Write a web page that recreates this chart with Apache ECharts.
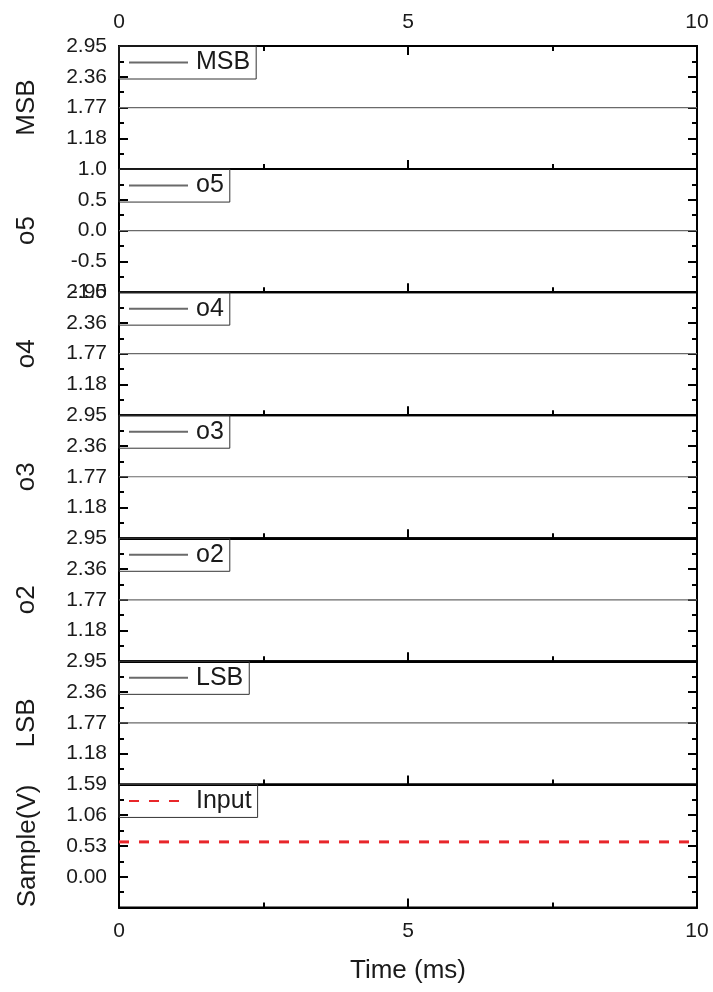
<!DOCTYPE html>
<html>
<head>
<meta charset="utf-8">
<script src="https://cdn.jsdelivr.net/npm/echarts@6/dist/echarts.min.js"></script>
<style>
html,body{margin:0;padding:0;background:#fff;}
#chart{width:713px;height:992px;}
</style>
</head>
<body>
<div id="chart"></div>
<script>
// ---- data ----
const timeMs = [0, 10];
const msbValues = [1.77, 1.77];
const o5Values = [0.0, 0.0];
const o4Values = [1.77, 1.77];
const o3Values = [1.77, 1.77];
const o2Values = [1.77, 1.77];
const lsbValues = [1.77, 1.77];
const inputValues = [0.6, 0.6];

const panelNames = ['MSB', 'o5', 'o4', 'o3', 'o2', 'LSB', 'Sample(V)'];
const seriesNames = ['MSB', 'o5', 'o4', 'o3', 'o2', 'LSB', 'Input'];
const seriesValues = [msbValues, o5Values, o4Values, o3Values, o2Values, lsbValues, inputValues];
const yMins = [0.59, -1.0, 0.59, 0.59, 0.59, 0.59, -0.53];
const yMaxs = [2.95, 1.0, 2.95, 2.95, 2.95, 2.95, 1.59];
const yIntervals = [0.59, 0.5, 0.59, 0.59, 0.59, 0.59, 0.53];
const yDecimals = [2, 1, 2, 2, 2, 2, 2];
const xTicks = [0, 5, 10];
const xTitle = 'Time (ms)';

// ---- layout ----
const FONT = '"Liberation Sans", Arial, sans-serif';
const TXT = '#1a1a1a';
const plotLeft = 119, plotRight = 16, plotTop = 46, plotBottom = 907.5;
const n = panelNames.length;
const ph = (plotBottom - plotTop) / n;
const xMin = xTicks[0], xMax = xTicks[xTicks.length - 1], xStep = xTicks[1] - xTicks[0];

const grids = [], xAxes = [], yAxes = [], series = [], legends = [];
const tick = len => ({show: true, inside: true, length: len, lineStyle: {color: '#000', width: 2}});
const lineOn = () => ({show: true, onZero: false, lineStyle: {color: '#000', width: 2}});
const lineOff = () => ({show: false, onZero: false});

function addXAxis(o) { xAxes.push(o); return xAxes.length - 1; }
function addYAxis(o) { yAxes.push(o); return yAxes.length - 1; }

for (let i = 0; i < n; i++) {
  const top = plotTop + i * ph;
  const last = i === n - 1;
  // main grid
  grids.push({left: plotLeft, right: plotRight, top: top, height: ph, show: true,
    borderColor: '#000', borderWidth: 2, backgroundColor: 'transparent'});
  const g = grids.length - 1;
  const xi = addXAxis({type: 'value', gridIndex: g, position: 'bottom', min: xMin, max: xMax, interval: xStep,
    axisLine: lineOn(), axisTick: tick(9), splitLine: {show: false},
    axisLabel: {show: last, margin: 13, fontSize: 21, color: TXT, fontFamily: FONT},
    name: last ? xTitle : '', nameLocation: 'middle', nameGap: 50,
    nameTextStyle: {fontSize: 26, color: TXT, fontFamily: FONT}});
  if (i === 0) {
    addXAxis({type: 'value', gridIndex: g, position: 'top', min: xMin, max: xMax, interval: xStep,
      axisLine: lineOn(), axisTick: tick(9), splitLine: {show: false},
      axisLabel: {show: true, margin: 13, fontSize: 21, color: TXT, fontFamily: FONT}});
  }
  const d = yDecimals[i];
  const yi = addYAxis({type: 'value', gridIndex: g, position: 'left', min: yMins[i], max: yMaxs[i], interval: yIntervals[i],
    axisLine: lineOn(), axisTick: tick(9), splitLine: {show: false},
    axisLabel: {margin: 12, fontSize: 21, color: TXT, fontFamily: FONT,
      showMinLabel: i === 1, showMaxLabel: true,
      formatter: v => (Math.abs(v) < 1e-9 ? 0 : v).toFixed(d)},
    name: panelNames[i], nameLocation: 'middle', nameGap: i === n - 1 ? 78 : 79,
    nameTextStyle: {fontSize: 26, color: TXT, fontFamily: FONT}});
  addYAxis({type: 'value', gridIndex: g, position: 'right', min: yMins[i], max: yMaxs[i], interval: yIntervals[i],
    axisLine: lineOn(), axisTick: tick(9), splitLine: {show: false}, axisLabel: {show: false}});

  // overlay grid carrying the short minor ticks (half-interval)
  grids.push({left: plotLeft, right: plotRight, top: top, height: ph, show: false});
  const gm = grids.length - 1;
  const minor = (o) => Object.assign({type: 'value', gridIndex: gm, axisLine: lineOff(), axisTick: tick(5),
    splitLine: {show: false}, axisLabel: {show: false}}, o);
  addXAxis(minor({position: 'bottom', min: xMin, max: xMax, interval: xStep / 2}));
  if (i === 0) addXAxis(minor({position: 'top', min: xMin, max: xMax, interval: xStep / 2}));
  addYAxis(minor({position: 'left', min: yMins[i], max: yMaxs[i], interval: yIntervals[i] / 2}));
  addYAxis(minor({position: 'right', min: yMins[i], max: yMaxs[i], interval: yIntervals[i] / 2}));

  const isInput = last;
  series.push({name: seriesNames[i], type: 'line', xAxisIndex: xi, yAxisIndex: yi,
    data: timeMs.map((t, k) => [t, seriesValues[i][k]]),
    symbol: 'none', animation: false, silent: true,
    lineStyle: isInput ? {color: '#e8262a', width: 3, type: [10, 10]} : {color: '#6a6a6a', width: 1.2},
    itemStyle: {color: isInput ? '#e8262a' : '#6a6a6a'}});
  legends.push({data: [seriesNames[i]], left: plotLeft, top: top, orient: 'horizontal',
    padding: [4, 6, 4, 9], borderColor: '#333', borderWidth: 1, borderRadius: 0,
    itemWidth: 59, itemHeight: 14, selectedMode: false,
    itemStyle: {color: 'rgba(0,0,0,0)', borderColor: 'rgba(0,0,0,0)', borderWidth: 0, opacity: 0},
    textStyle: {fontSize: 25, color: TXT, fontFamily: FONT, padding: [0, 0, 0, 3]}});
}

const chart = echarts.init(document.getElementById('chart'), null, {renderer: 'canvas'});
chart.setOption({animation: false, backgroundColor: '#fff', grid: grids, xAxis: xAxes, yAxis: yAxes, series: series, legend: legends});
</script>
</body>
</html>
